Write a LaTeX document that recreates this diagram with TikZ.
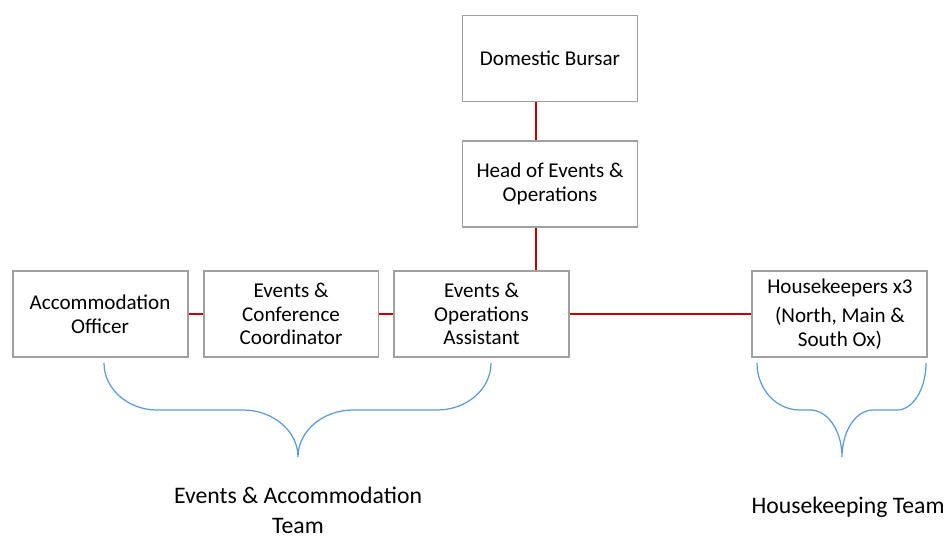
\documentclass[tikz,border=0pt]{standalone}
\usepackage{fontspec}
\setmainfont{Carlito}
\usetikzlibrary{positioning}

\definecolor{boxgray}{RGB}{160,160,160}
\definecolor{linkred}{RGB}{192,0,0}
\definecolor{braceblue}{RGB}{91,155,213}

\begin{document}
\begin{tikzpicture}[
  x=0.02cm, y=0.02cm,
  box/.style={rectangle, draw=boxgray, line width=1.1pt, fill=white, minimum width=3.5cm, minimum height=1.72cm, align=center, font=\fontsize{12}{13.5}\selectfont},
  team/.style={align=center, inner sep=1pt, font=\fontsize{13.5}{17}\selectfont},
  link/.style={draw=linkred, line width=1.2pt},
  brace/.style={draw=braceblue, line width=0.7pt}
]
\useasboundingbox (0,0) rectangle (948,-539);

% Management
\node[box] (bursar) at (550,-58.5) {Domestic Bursar};
\node[box, below of=bursar, node distance=2.51cm] (head) {Head of Events \&\\Operations};

% Team row
\node[box] (assistant) at (481.5,-314) {Events \&\\Operations\\Assistant};
\node[box, left of=assistant, node distance=3.81cm] (coordinator) {Events \&\\Conference\\Coordinator};
\node[box, left of=coordinator, node distance=3.82cm] (accommodation) {Accommodation\\Officer};
\node[box, right of=assistant, node distance=7.17cm] (housekeepers) {Housekeepers x3\\[3pt](North, Main \&\\South Ox)};

\draw[link] ([xshift=-0.28cm]bursar.south) -- ([xshift=-0.28cm]head.north);
\draw[link] ([xshift=-0.28cm]head.south) -- ([xshift=-0.28cm]head.south |- assistant.north);
\draw[link] (accommodation) -- (coordinator);
\draw[link] (coordinator) -- (assistant);
\draw[link] (assistant) -- (housekeepers);

% Braces
\draw[brace] (104,-363) .. controls (104,-389) and (128,-410) .. (157,-410) -- (243,-410)
  .. controls (273,-410) and (298,-431) .. (298,-457)
  .. controls (298,-431) and (323,-410) .. (353,-410) -- (437,-410)
  .. controls (467,-410) and (491,-389) .. (491,-363);
\draw[brace] (757,-363) .. controls (757,-389) and (776,-410) .. (800,-410) -- (810,-410)
  .. controls (828,-410) and (842,-431) .. (842,-457)
  .. controls (842,-431) and (856,-410) .. (873,-410) -- (897,-410)
  .. controls (913,-410) and (926,-389) .. (926,-363);

\node[team] (eventsteam) at (298,-510) {Events \& Accommodation\\Team};
\node[team] (houseteam) at (848,-507) {Housekeeping Team};

\end{tikzpicture}
\end{document}
